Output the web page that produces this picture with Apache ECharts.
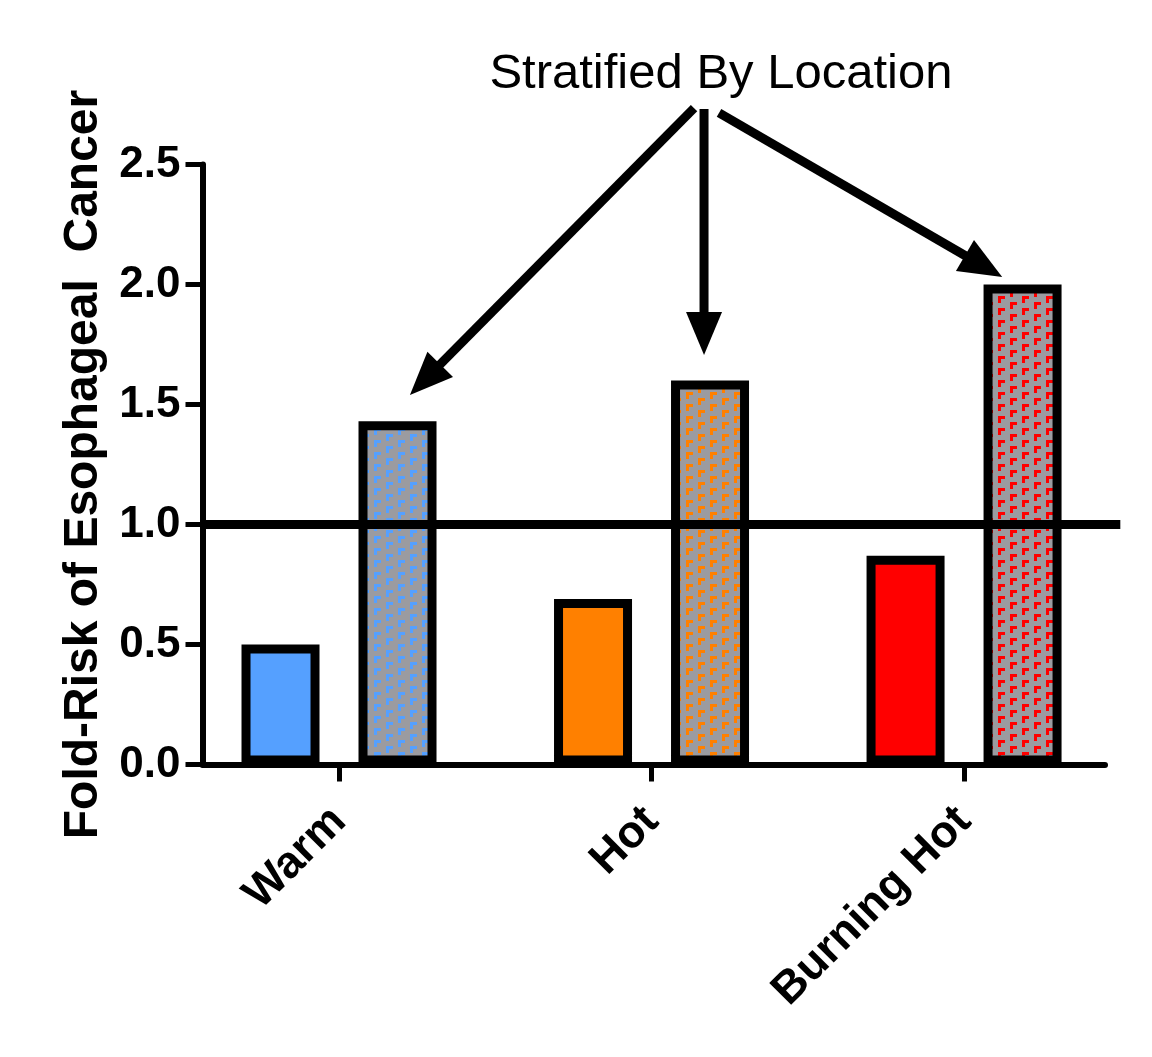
<!DOCTYPE html>
<html>
<head>
<meta charset="utf-8">
<script src="https://cdn.jsdelivr.net/npm/echarts@6/dist/echarts.min.js"></script>
<style>
html,body{margin:0;padding:0;background:#fff;}
#chart{width:1152px;height:1057px;}
</style>
</head>
<body>
<div id="chart"></div>
<script>
// ---- data ----
const categories = ['Warm', 'Hot', 'Burning Hot'];
const overallRisk = [0.5, 0.69, 0.87];
const locationRisk = [1.43, 1.6, 2.0];
const yTickValues = [0, 0.5, 1.0, 1.5, 2.0, 2.5];
const referenceValue = 1.0;
const annotationText = 'Stratified By Location';
const yAxisTitle = 'Fold-Risk of Esophageal  Cancer';

// ---- styles ----
const solidColors = ['#55A0FF', '#FF8000', '#FF0000'];
const patternBg = '#9B9BA0';
const FONT = '"Liberation Sans", Arial, Helvetica, sans-serif';

function makePattern(color) {
  const c = document.createElement('canvas');
  c.width = 24; c.height = 12;
  const g = c.getContext('2d');
  g.fillStyle = patternBg;
  g.fillRect(0, 0, 24, 12);
  g.fillStyle = color;
  function L(x, y) {
    g.fillRect(x, y, 7, 3);
    g.fillRect(x, y, 3, 7);
  }
  L(2, 2);
  L(14, 8);
  L(14, -4);
  return { image: c, repeat: 'repeat' };
}

const chart = echarts.init(document.getElementById('chart'), null, { renderer: 'canvas' });

const option = {
  backgroundColor: '#ffffff',
  animation: false,
  grid: { left: 202.5, right: 47, top: 164.5, bottom: 292.5, containLabel: false, outerBoundsMode: 'none' },
  xAxis: {
    type: 'value',
    min: -0.4368,
    max: 2.451,
    splitLine: { show: false },
    axisLine: { show: true, onZero: false, lineStyle: { color: '#000', width: 6 } },
    axisTick: { show: true, customValues: [0, 1, 2], length: 17, lineStyle: { color: '#000', width: 5 } },
    axisLabel: {
      customValues: [0, 1, 2],
      formatter: v => categories[Math.round(v)],
      rotate: 45,
      margin: 50,
      color: '#000',
      fontFamily: FONT,
      fontWeight: 'bold',
      fontSize: 45
    }
  },
  yAxis: {
    type: 'value',
    min: 0,
    max: 2.5,
    interval: 0.5,
    splitLine: { show: false },
    axisLine: { show: true, onZero: false, lineStyle: { color: '#000', width: 6 } },
    axisTick: { show: true, length: 17, lineStyle: { color: '#000', width: 5 } },
    axisLabel: {
      formatter: v => (yTickValues.indexOf(v) >= 0 ? v.toFixed(1) : ''),
      margin: 22,
      color: '#000',
      fontFamily: FONT,
      fontWeight: 'bold',
      fontSize: 44
    },
    name: yAxisTitle,
    nameLocation: 'middle',
    nameRotate: 90,
    nameGap: 95,
    nameTextStyle: { color: '#000', fontFamily: FONT, fontWeight: 'bold', fontSize: 48 }
  },
  series: [
    {
      type: 'bar',
      name: 'Overall',
      barWidth: 78,
      barGap: '50%',
      data: categories.map((c, i) => ({
        value: [i, overallRisk[i]],
        itemStyle: { color: solidColors[i], borderColor: '#000', borderWidth: 9 }
      }))
    },
    {
      type: 'bar',
      name: 'By Location',
      barWidth: 78,
      barGap: '50%',
      data: categories.map((c, i) => ({
        value: [i, locationRisk[i]],
        itemStyle: { color: makePattern(solidColors[i]), borderColor: '#000', borderWidth: 9 }
      }))
    }
  ]
};
chart.setOption(option);

// ---- annotations (positioned through the chart's own coordinate system) ----
function px(x, y) { return chart.convertToPixel({ gridIndex: 0 }, [x, y]); }

const graphics = [];
// reference line at 1.0
const r0 = px(-0.4368, referenceValue);
const r1 = px(2.50, referenceValue);
graphics.push({
  type: 'line', z: 100,
  shape: { x1: r0[0], y1: r0[1], x2: r1[0], y2: r1[1] },
  style: { stroke: '#000', lineWidth: 9 }
});

// arrows from annotation text to the stratified bars
const arrows = [
  { from: [1.136, 2.735], to: [0.227, 1.54] },
  { from: [1.168, 2.731], to: [1.168, 1.706] },
  { from: [1.216, 2.715], to: [2.122, 2.031] }
];
arrows.forEach(a => {
  const s = px(a.from[0], a.from[1]);
  const t = px(a.to[0], a.to[1]);
  const dx = t[0] - s[0], dy = t[1] - s[1];
  const len = Math.hypot(dx, dy);
  const ux = dx / len, uy = dy / len;
  const nx = -uy, ny = ux;
  const headLen = 43, headHalf = 18;
  const bx = t[0] - ux * headLen, by = t[1] - uy * headLen;
  graphics.push({
    type: 'line', z: 100,
    shape: { x1: s[0], y1: s[1], x2: bx + ux * 4, y2: by + uy * 4 },
    style: { stroke: '#000', lineWidth: 9 }
  });
  graphics.push({
    type: 'polygon', z: 100,
    shape: { points: [[t[0], t[1]], [bx + nx * headHalf, by + ny * headHalf], [bx - nx * headHalf, by - ny * headHalf]] },
    style: { fill: '#000' }
  });
});

// annotation text
const tp = px(1.222, 2.877);
graphics.push({
  type: 'text', z: 100,
  x: tp[0], y: tp[1],
  style: { text: annotationText, fill: '#000', font: 'normal 49px ' + FONT, textAlign: 'center', textVerticalAlign: 'middle' }
});

chart.setOption({ graphic: graphics });
</script>
</body>
</html>
